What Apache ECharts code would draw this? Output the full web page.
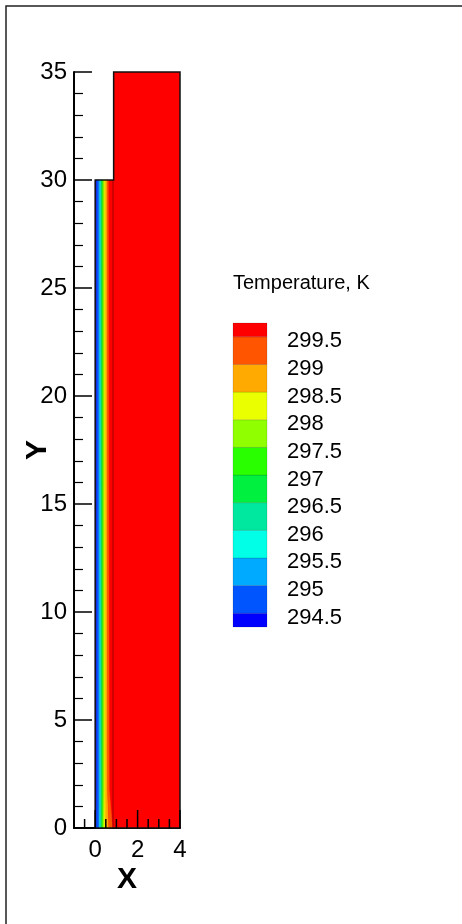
<!DOCTYPE html>
<html>
<head>
<meta charset="utf-8">
<script src="https://cdn.jsdelivr.net/npm/echarts@6/dist/echarts.min.js"></script>
<style>
  html, body { margin: 0; padding: 0; background: #fff; }
  #chart { width: 462px; height: 924px; }
</style>
</head>
<body>
<div id="chart"></div>
<script>
// contour levels shown in the colour bar (bottom to top)
const legendLabels = ['294.5', '295', '295.5', '296', '296.5', '297', '297.5', '298', '298.5', '299', '299.5']
// one colour per band, coldest first (<294.5 ... >299.5)
const bandColors = [
  '#0000ff', '#0055ff', '#00aaff', '#00ffe6', '#00e8a0', '#00f040',
  '#2aff00', '#90ff00', '#eaff00', '#ffaa00', '#ff5500', '#ff0000',
]

// domain outline (x, y)
const domainX = [0, 0, 0.87, 0.87, 4, 4]
const domainY = [0, 30, 30, 35, 35, 0]

// contour edge x positions for each level, sampled at a few heights
const profileY = [0, 1.8, 30]
const edgeX = [
  [0.06, 0.17, 0.21, 0.25, 0.29, 0.33, 0.37, 0.42, 0.50, 0.64, 0.82],
  [0.07, 0.17, 0.22, 0.26, 0.30, 0.34, 0.38, 0.44, 0.50, 0.58, 0.66],
  [0.07, 0.17, 0.22, 0.26, 0.30, 0.34, 0.38, 0.44, 0.50, 0.56, 0.62],
]

// inner zone boundary
const wallX = [0.84, 0.84]
const wallY = [0, 30]

const xTickLabels = [0, 2, 4]
const xMajorTicks = [0, 2, 4]
const xMinorTicks = [-0.5, 0.5, 1, 1.5, 2.5, 3, 3.5]

const FONT = 'Liberation Sans, Arial, sans-serif'

const chart = echarts.init(document.getElementById('chart'))

function renderDomain(params, api) {
  const pts = domainX.map((x, i) => api.coord([x, domainY[i]]))
  return { type: 'polygon', shape: { points: pts }, style: { fill: bandColors[11] } }
}

function renderBand(params, api) {
  const k = api.value(2)
  const left = []
  const right = []
  for (let j = 0; j < profileY.length; j++) {
    const xl = k === 0 ? 0 : edgeX[j][k - 1]
    left.push(api.coord([xl, profileY[j]]))
    right.push(api.coord([edgeX[j][k], profileY[j]]))
  }
  return {
    type: 'polygon',
    shape: { points: left.concat(right.reverse()) },
    style: { fill: bandColors[k], stroke: bandColors[k], lineWidth: 0.4 },
  }
}

function renderOutline(params, api) {
  const pts = domainX.map((x, i) => api.coord([x, domainY[i]]))
  const wall = wallX.map((x, i) => api.coord([x, wallY[i]]))
  return {
    type: 'group',
    children: [
      { type: 'polyline', shape: { points: wall }, style: { stroke: '#a00000', lineWidth: 1, fill: null } },
      { type: 'polygon', shape: { points: pts }, style: { stroke: '#111', lineWidth: 1.5, fill: null } },
    ],
  }
}

function tickRenderer(len) {
  return function (params, api) {
    const p = api.coord([api.value(0), 0])
    return {
      type: 'line',
      shape: { x1: p[0], y1: p[1], x2: p[0], y2: p[1] - len },
      style: { stroke: '#000', lineWidth: 1.5 },
    }
  }
}

function renderLegendBand(params, api) {
  const k = api.value(2)
  const cs = params.coordSys
  const top = k === 11 ? cs.y : api.coord([0, k])[1]
  const bottom = k === 0 ? cs.y + cs.height : api.coord([0, k - 1])[1]
  return {
    type: 'rect',
    shape: { x: cs.x, y: top, width: cs.width, height: bottom - top },
    style: { fill: bandColors[k], stroke: 'rgba(0,0,0,0.25)', lineWidth: 0.5 },
  }
}

const option = {
  animation: false,
  backgroundColor: '#fff',
  textStyle: { fontFamily: FONT },
  title: {
    text: 'Temperature, K',
    left: 233,
    top: 273,
    padding: 0,
    textStyle: { fontFamily: FONT, fontSize: 20, fontWeight: 'normal', color: '#000' },
  },
  graphic: [
    {
      type: 'rect',
      shape: { x: 6, y: 6, width: 500, height: 1000 },
      style: { fill: null, stroke: '#222', lineWidth: 1.5 },
      silent: true,
    },
  ],
  grid: [
    { left: 74, top: 72, width: 106, height: 756 },
    { left: 233, top: 323, width: 34, height: 304 },
  ],
  xAxis: [
    {
      gridIndex: 0,
      type: 'value',
      min: -1,
      max: 4,
      interval: 1,
      axisLine: { onZero: false, lineStyle: { color: '#000', width: 2 } },
      axisTick: { show: false },
      splitLine: { show: false },
      axisLabel: {
        color: '#000',
        fontSize: 24,
        fontFamily: FONT,
        margin: 10,
        formatter: v => (xTickLabels.includes(v) ? String(v) : ''),
      },
      name: 'X',
      nameLocation: 'middle',
      nameGap: 37,
      nameMoveOverlap: false,
      nameTextStyle: { color: '#000', fontSize: 30, fontWeight: 'bold', fontFamily: FONT },
    },
    { gridIndex: 1, type: 'value', min: 0, max: 1, show: false },
  ],
  yAxis: [
    {
      gridIndex: 0,
      type: 'value',
      min: 0,
      max: 35,
      interval: 5,
      axisLine: { show: true, onZero: false, lineStyle: { color: '#000', width: 2 } },
      axisTick: { show: true, inside: true, length: 18, lineStyle: { color: '#000', width: 1.5 } },
      minorTick: { show: true, splitNumber: 5, length: 9, lineStyle: { color: '#000', width: 1.2 } },
      splitLine: { show: false },
      axisLabel: { color: '#000', fontSize: 24, fontFamily: FONT, margin: 7 },
      name: 'Y',
      nameLocation: 'middle',
      nameRotate: 90,
      nameGap: 21,
      nameMoveOverlap: false,
      nameTextStyle: { color: '#000', fontSize: 30, fontWeight: 'bold', fontFamily: FONT },
    },
    {
      gridIndex: 1,
      type: 'category',
      data: legendLabels,
      position: 'right',
      boundaryGap: true,
      axisLine: { show: false },
      axisTick: { show: false },
      splitLine: { show: false },
      axisLabel: {
        interval: 0,
        color: '#000',
        fontSize: 22,
        fontFamily: FONT,
        margin: 20,
        verticalAlign: 'top',
        lineHeight: 9,
      },
    },
  ],
  series: [
    {
      type: 'custom',
      xAxisIndex: 0,
      yAxisIndex: 0,
      z: 1,
      renderItem: renderDomain,
      data: [[0, 0, 0]],
      silent: true,
    },
    {
      type: 'custom',
      xAxisIndex: 0,
      yAxisIndex: 0,
      z: 2,
      renderItem: renderBand,
      data: bandColors.slice(0, 11).map((c, i) => [0, 0, i]),
      silent: true,
    },
    {
      type: 'custom',
      xAxisIndex: 0,
      yAxisIndex: 0,
      z: 3,
      renderItem: renderOutline,
      data: [[0, 0, 0]],
      silent: true,
    },
    {
      type: 'custom',
      xAxisIndex: 0,
      yAxisIndex: 0,
      z: 4,
      renderItem: tickRenderer(18),
      data: xMajorTicks.map(v => [v, 0]),
      silent: true,
    },
    {
      type: 'custom',
      xAxisIndex: 0,
      yAxisIndex: 0,
      z: 4,
      renderItem: tickRenderer(9),
      data: xMinorTicks.map(v => [v, 0]),
      silent: true,
    },
    {
      type: 'custom',
      xAxisIndex: 1,
      yAxisIndex: 1,
      z: 2,
      renderItem: renderLegendBand,
      data: bandColors.map((c, i) => [0.5, 0, i]),
      silent: true,
    },
  ],
}

chart.setOption(option)
</script>
</body>
</html>
